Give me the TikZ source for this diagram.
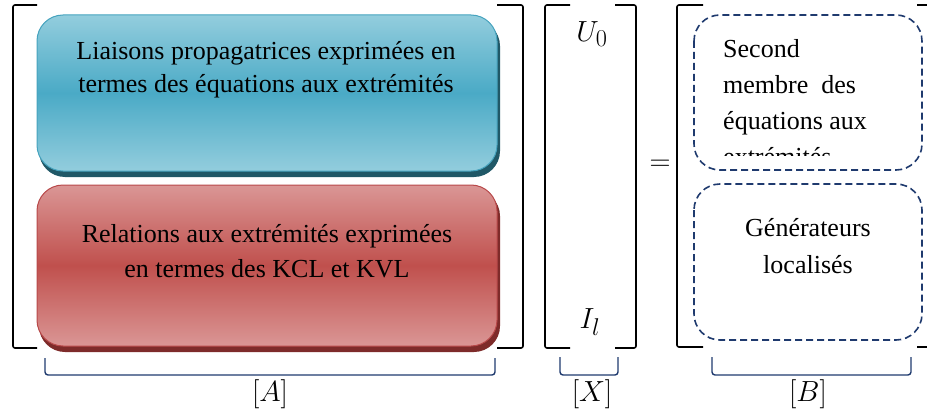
\documentclass[tikz,border=0pt]{standalone}
\usepackage{graphicx}
\usepackage{fontspec}
\setmainfont{Liberation Serif}
\newcommand{\mylabelmath}[1]{\scalebox{1.17}{\Huge$#1$}}
\begin{document}
\begin{tikzpicture}[x=1pt,y=-1pt,
  bracketline/.style={line width=1.6pt, rounded corners=2pt, black},
  brace/.style={line width=1.4pt, rounded corners=3pt, draw=navyb},
  dashbox/.style={draw=navyb, dashed, dash pattern=on 7pt off 4pt, line width=1.6pt, rounded corners=26pt},
  bigtxt/.style={font=\fontsize{26}{33}\selectfont, align=center, inner sep=0pt},
  mathtxt/.style={inner sep=0pt}]
\definecolor{navyb}{HTML}{1F3A6E}
\definecolor{blight}{HTML}{93CDDD}
\definecolor{bdark}{HTML}{4AAAC6}
\definecolor{bedge}{HTML}{46A3BE}
\definecolor{bshadow}{HTML}{205867}
\definecolor{rlight}{HTML}{DA9695}
\definecolor{rdark}{HTML}{C0504D}
\definecolor{redge}{HTML}{B8494A}
\definecolor{rshadow}{HTML}{7E2B2A}
\useasboundingbox (0,0) rectangle (927,412);
% big left bracket
\draw[bracketline] (37,5) -- (13,5) -- (13,348) -- (37,348);
\draw[bracketline] (497,5) -- (523,5) -- (523,348) -- (497,348);
% blue box
\fill[bshadow, rounded corners=26pt] (39,20) rectangle (500,177);
\shade[top color=blight, bottom color=blight, middle color=bdark, rounded corners=26pt, draw=bedge, line width=1pt] (37,15) rectangle (497,171);
\node[bigtxt, anchor=north] (t1) at (266,41) {Liaisons propagatrices exprimées en\\termes des équations aux extrémités};
% red box
\fill[rshadow, rounded corners=26pt] (39,190) rectangle (500,352);
\shade[top color=rlight, bottom color=rlight, middle color=rdark, rounded corners=26pt, draw=redge, line width=1pt] (37,185) rectangle (497,346);
\node[bigtxt, anchor=north, font=\fontsize{26}{35}\selectfont] (t2) at (267,224) {Relations aux extrémités exprimées\\en termes des KCL et KVL};
% A brace
\draw[brace] (45,358) -- (45,375) -- (495,375) -- (495,358);
\node[mathtxt] (la) at (270,394) {\mylabelmath{[A]}};
% X bracket
\draw[bracketline] (570,5) -- (545,5) -- (545,348) -- (570,348);
\draw[bracketline] (615,5) -- (636,5) -- (636,348) -- (615,348);
\node[mathtxt] (u0) at (592,34) {\mylabelmath{U_0}};
\node[mathtxt] (il) at (590,322) {\mylabelmath{I_l}};
\draw[brace] (560,357) -- (560,375) -- (618,375) -- (618,357);
\node[mathtxt] (lx) at (592,394) {\mylabelmath{[X]}};
% equals
\node[mathtxt] (eq) at (660,165) {\mylabelmath{=}};
% B bracket
\draw[bracketline] (703,5) -- (677,5) -- (677,347) -- (703,347);
\draw[bracketline] (917,5) -- (930,5) -- (930,347) -- (917,347);
% dashed boxes
\draw[dashbox] (694,15) rectangle (922,170);
\draw[dashbox] (694,184) rectangle (922,340);
\begin{scope}
\clip (690,15) rectangle (925,155.5);
\node[font=\fontsize{26}{36}\selectfont, align=left, inner sep=0pt, anchor=north west] (sec) at (723,39) {Second\\membre~ des\\équations aux\\extrémités};
\end{scope}
\node[bigtxt, font=\fontsize{26}{37}\selectfont, anchor=north] (gen) at (808,218) {Générateurs\\localisés};
\draw[brace] (712,357) -- (712,375) -- (911,375) -- (911,357);
\node[mathtxt] (lb) at (808,394) {\mylabelmath{[B]}};
\end{tikzpicture}
\end{document}
